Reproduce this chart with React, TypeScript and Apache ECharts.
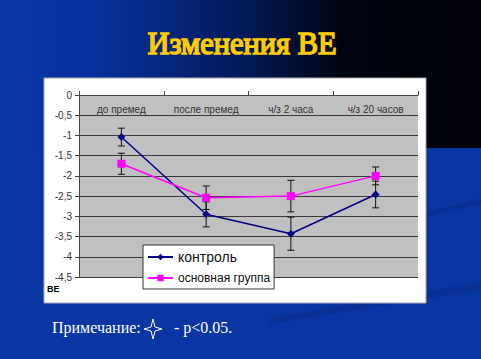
import React, { useEffect, useRef } from "react";
import * as echarts from "echarts";

const categories = ["до премед", "после премед", "ч/з 2 часа", "ч/з 20 часов"];
const controlValues = [-1.04, -2.95, -3.43, -2.46];
const controlErrors = [0.22, 0.31, 0.41, 0.33];
const mainValues = [-1.7, -2.54, -2.5, -2.0];
const mainErrors = [0.26, 0.29, 0.39, 0.22];
const seriesNames = ["контроль", "основная группа"];
const titleText = "Изменения BE";
const noteLeft = "Примечание:";
const noteRight = "- p<0.05.";
const yUnit = "BE";

function errorSeries(values: number[], errors: number[], id: string) {
  return {
    type: "custom",
    id,
    silent: true,
    z: 4,
    data: values.map((v, i) => [i, v, errors[i]]),
    encode: { x: 0, y: 1 },
    renderItem: (_params: any, api: any) => {
      const x = api.value(0);
      const y = api.value(1);
      const e = api.value(2);
      const top = api.coord([x, y + e]);
      const bot = api.coord([x, y - e]);
      const w = 3.5;
      const st = { stroke: "#111", lineWidth: 1 };
      return {
        type: "group",
        children: [
          { type: "line", shape: { x1: top[0], y1: top[1], x2: bot[0], y2: bot[1] }, style: st },
          { type: "line", shape: { x1: top[0] - w, y1: top[1], x2: top[0] + w, y2: top[1] }, style: st },
          { type: "line", shape: { x1: bot[0] - w, y1: bot[1], x2: bot[0] + w, y2: bot[1] }, style: st },
        ],
      };
    },
  };
}

export default function App() {
  const ref = useRef<HTMLDivElement>(null);
  useEffect(() => {
    if (!ref.current) return;
    const chart = echarts.init(ref.current, undefined, { renderer: "svg", width: 481, height: 359 });
    const blue = "#0a36a4";
    chart.setOption({
      animation: false,
      backgroundColor: blue,
      graphic: [
        {
          type: "rect",
          z: -20,
          silent: true,
          shape: { x: 0, y: 0, width: 481, height: 148 },
          style: {
            fill: new echarts.graphic.LinearGradient(0, 0, 1, 0, [
              { offset: 0, color: "#0a38a6" },
              { offset: 0.22, color: "#07309a" },
              { offset: 0.5, color: "#031a5a" },
              { offset: 0.72, color: "#00040f" },
              { offset: 1, color: "#000008" },
            ]),
          },
        },
        {
          type: "polygon",
          z: -19,
          silent: true,
          shape: { points: [[270, 318], [481, 282], [481, 290], [270, 324]] },
          style: { fill: "rgba(0,20,90,0.18)" },
        },
        {
          type: "polygon",
          z: -19,
          silent: true,
          shape: { points: [[426, 212], [481, 198], [481, 204], [426, 217]] },
          style: { fill: "rgba(0,20,90,0.2)" },
        },
        {
          type: "rect",
          z: -5,
          silent: true,
          shape: { x: 44, y: 78, width: 382, height: 225 },
          style: { fill: "#ffffff", stroke: "#a8a8a8", lineWidth: 1 },
        },
        {
          type: "text",
          z: 50,
          x: 242,
          y: 43,
          scaleX: 0.95,
          style: {
            text: titleText,
            fill: "#ffcc00",
            stroke: "#ffcc00",
            lineWidth: 1.6,
            fontFamily: "Liberation Serif",
            fontSize: 32,
            align: "center",
            verticalAlign: "middle",
          },
        },
        {
          type: "text",
          z: 50,
          x: 47,
          y: 289,
          style: {
            text: yUnit,
            fill: "#000",
            fontFamily: "Liberation Sans",
            fontWeight: "bold",
            fontSize: 9,
            align: "left",
            verticalAlign: "middle",
          },
        },
        {
          type: "text",
          z: 50,
          x: 52,
          y: 327,
          style: {
            text: noteLeft,
            fill: "#ffffff",
            fontFamily: "Liberation Serif",
            fontSize: 16,
            align: "left",
            verticalAlign: "middle",
          },
        },
        {
          type: "polygon",
          z: 50,
          silent: true,
          shape: {
            points: [
              [153, 319], [155, 327], [162, 329], [155, 331],
              [153, 339], [151, 331], [144, 329], [151, 327],
            ],
          },
          style: { fill: blue, stroke: "#ffffff", lineWidth: 1 },
        },
        {
          type: "text",
          z: 50,
          x: 174,
          y: 327,
          style: {
            text: noteRight,
            fill: "#ffffff",
            fontFamily: "Liberation Serif",
            fontSize: 16,
            align: "left",
            verticalAlign: "middle",
          },
        },
      ],
      grid: {
        left: 79,
        right: 63,
        top: 95,
        bottom: 82,
        show: true,
        backgroundColor: "#c0c0c0",
        borderWidth: 0,
      },
      legend: {
        data: seriesNames,
        orient: "vertical",
        left: 143,
        top: 245,
        width: 128,
        backgroundColor: "#ffffff",
        borderColor: "#333",
        borderWidth: 1,
        padding: [5, 4, 5, 4],
        itemWidth: 25,
        itemHeight: 8,
        itemGap: 8,
        z: 20,
        formatter: (name: string) => (name === seriesNames[0] ? `{a|${name}}` : `{b|${name}}`),
        textStyle: {
          color: "#111",
          fontFamily: "Liberation Sans",
          rich: {
            a: { fontSize: 14, height: 14, fontFamily: "Liberation Sans", color: "#111" },
            b: { fontSize: 12, height: 14, fontFamily: "Liberation Sans", color: "#111" },
          },
        },
      },
      xAxis: {
        type: "category",
        data: categories,
        position: "top",
        boundaryGap: true,
        axisLine: { show: true, lineStyle: { color: "#444", width: 1 } },
        axisTick: { show: true, length: 4, inside: false, lineStyle: { color: "#444" } },
        axisLabel: {
          inside: true,
          margin: 9,
          color: "#333",
          fontSize: 10,
          fontFamily: "Liberation Sans",
        },
        splitLine: { show: false },
      },
      yAxis: {
        type: "value",
        min: -4.5,
        max: 0,
        interval: 0.5,
        axisLine: { show: true, lineStyle: { color: "#444", width: 1 } },
        axisTick: { show: true, length: 4, lineStyle: { color: "#444" } },
        axisLabel: {
          margin: 7,
          color: "#333",
          fontSize: 10,
          fontFamily: "Liberation Sans",
          formatter: (v: number) => String(v).replace(".", ","),
        },
        splitLine: { show: true, lineStyle: { color: "#3a3a3a", width: 1 } },
      },
      series: [
        errorSeries(controlValues, controlErrors, "controlErr"),
        errorSeries(mainValues, mainErrors, "mainErr"),
        {
          type: "line",
          name: seriesNames[0],
          data: controlValues,
          symbol: "diamond",
          symbolSize: 8,
          z: 5,
          lineStyle: { color: "#000080", width: 1.5 },
          itemStyle: { color: "#000080" },
        },
        {
          type: "line",
          name: seriesNames[1],
          data: mainValues,
          symbol: "rect",
          symbolSize: 8,
          z: 6,
          lineStyle: { color: "#ff00ff", width: 1.5 },
          itemStyle: { color: "#ff00ff" },
        },
      ],
    });
    return () => chart.dispose();
  }, []);
  return (
    <div
      ref={ref}
      style={{ position: "fixed", left: 0, top: 0, width: 481, height: 359 }}
    />
  );
}
